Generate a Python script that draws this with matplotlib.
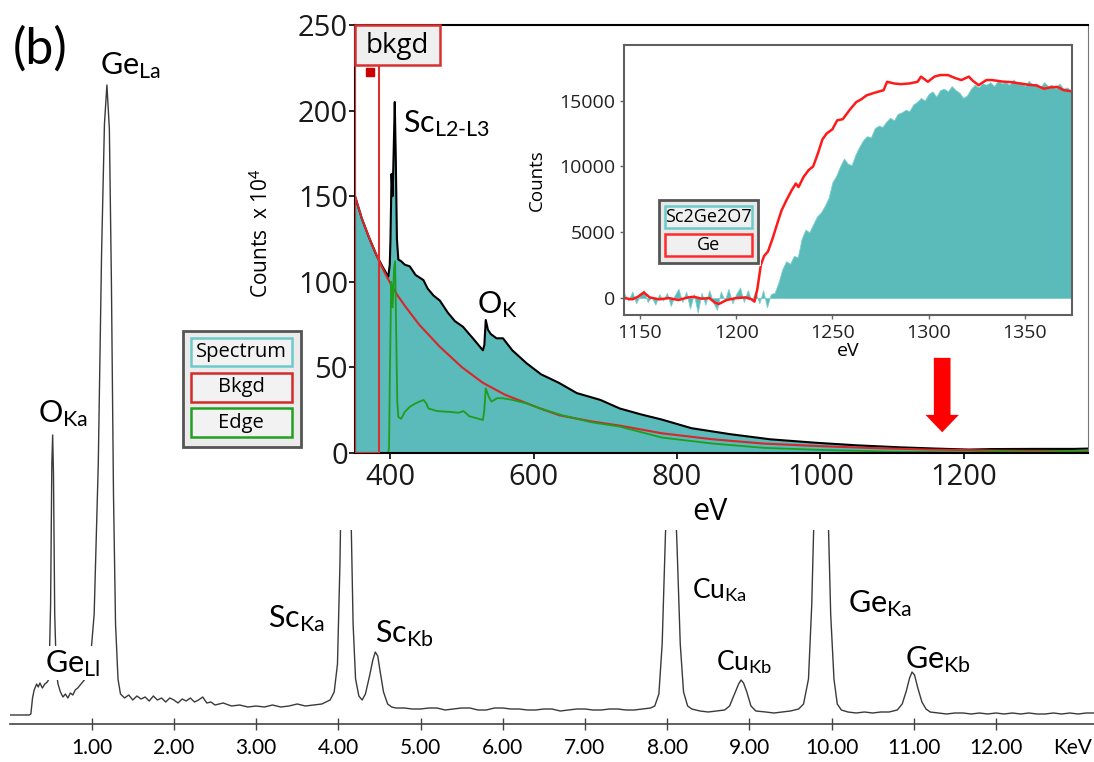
import matplotlib
matplotlib.use('Agg')
import matplotlib.pyplot as plt
from matplotlib.patches import Rectangle

plt.rcParams['mathtext.fontset'] = 'custom'
plt.rcParams['mathtext.rm'] = 'Lato'
plt.rcParams['mathtext.it'] = 'Lato:italic'
plt.rcParams['mathtext.bf'] = 'Lato:bold'

# ---- EDS spectrum (main, keV vs counts a.u.) ----
eds_kev = [0.00, 0.24, 0.26, 0.28, 0.30, 0.33, 0.35, 0.37, 0.40, 0.43, 0.46, 0.48,
           0.50, 0.515, 0.525, 0.535, 0.55, 0.57, 0.59, 0.62, 0.65, 0.68, 0.71, 0.74,
           0.77, 0.80, 0.83, 0.86, 0.89, 0.93, 0.98, 1.03, 1.08, 1.12, 1.155, 1.185,
           1.215, 1.24, 1.265, 1.29, 1.32, 1.35, 1.40, 1.45, 1.50, 1.55, 1.60, 1.65,
           1.70, 1.75, 1.80, 1.85, 1.90, 1.95, 2.00, 2.05, 2.10, 2.15, 2.20, 2.25,
           2.30, 2.35, 2.40, 2.45, 2.50, 2.60, 2.70, 2.80, 2.90, 3.00, 3.10, 3.20,
           3.30, 3.40, 3.50, 3.60, 3.70, 3.80, 3.85, 3.90, 3.95, 3.99, 4.02, 4.05,
           4.08, 4.10, 4.12, 4.15, 4.18, 4.21, 4.25, 4.29, 4.33, 4.38, 4.42, 4.45,
           4.48, 4.51, 4.55, 4.60, 4.65, 4.70, 4.80, 4.90, 5.00, 5.10, 5.20, 5.30,
           5.40, 5.50, 5.60, 5.70, 5.80, 5.90, 6.00, 6.10, 6.20, 6.30, 6.40, 6.50,
           6.60, 6.70, 6.80, 6.90, 7.00, 7.10, 7.20, 7.30, 7.40, 7.50, 7.60, 7.70,
           7.80, 7.85, 7.90, 7.94, 7.98, 8.02, 8.05, 8.08, 8.12, 8.16, 8.20, 8.25,
           8.30, 8.40, 8.50, 8.60, 8.70, 8.76, 8.82, 8.87, 8.90, 8.93, 8.97, 9.02,
           9.08, 9.20, 9.30, 9.40, 9.50, 9.60, 9.66, 9.72, 9.76, 9.80, 9.85, 9.88,
           9.91, 9.95, 9.99, 10.03, 10.07, 10.12, 10.20, 10.30, 10.40, 10.50, 10.60, 10.70,
           10.80, 10.86, 10.91, 10.95, 10.98, 11.01, 11.05, 11.10, 11.15, 11.20, 11.30, 11.40,
           11.50, 11.60, 11.70, 11.80, 11.90, 12.00, 12.10, 12.20, 12.30, 12.40, 12.50, 12.60,
           12.70, 12.80, 12.90, 13.00, 13.10, 13.20]
eds_counts = [9, 9, 10, 26, 34, 40, 37, 41, 36, 40, 42, 45,
              120, 260, 289, 250, 110, 52, 40, 32, 27, 30, 26, 31,
              29, 34, 36, 39, 42, 46, 60, 110, 260, 470, 600, 639,
              595, 440, 230, 100, 45, 30, 26, 29, 24, 28, 25, 27,
              23, 28, 24, 26, 22, 26, 24, 21, 25, 23, 26, 22,
              24, 27, 21, 22, 19, 21, 18, 19, 17, 18, 17, 19,
              17, 18, 20, 18, 19, 20, 22, 24, 32, 60, 160, 320,
              410, 420, 380, 230, 100, 45, 28, 24, 30, 48, 64, 72,
              68, 52, 32, 20, 17, 16, 16, 15, 15, 16, 16, 14,
              15, 16, 16, 14, 14, 16, 16, 15, 15, 14, 14, 15,
              15, 13, 14, 15, 15, 14, 14, 15, 15, 14, 14, 15,
              16, 18, 30, 80, 190, 270, 285, 265, 180, 80, 32, 18,
              15, 13, 12, 13, 14, 18, 30, 40, 44, 41, 32, 18,
              13, 12, 11, 12, 13, 15, 20, 45, 120, 250, 360, 380,
              350, 240, 110, 45, 20, 14, 12, 11, 12, 11, 12, 12,
              14, 20, 33, 46, 52, 49, 36, 22, 15, 12, 11, 10,
              11, 11, 10, 11, 10, 11, 10, 11, 10, 11, 10, 10,
              11, 10, 11, 10, 11, 11]
eds_ticks = [1, 2, 3, 4, 5, 6, 7, 8, 9, 10, 11, 12]

# ---- EELS spectrum (eV vs counts x 10^4) ----
eels_ev = [350.5, 360, 370, 380, 390, 397, 399, 400, 401.5, 403, 404.5, 406, 407.5,
           409, 411, 415, 420, 427, 435, 446, 452, 460, 469, 480, 490, 501, 515,
           529, 531, 533, 536, 540, 548, 557, 570, 590, 610, 635, 660, 693, 720,
           750, 779, 820, 874, 930, 993, 1050, 1112, 1160, 1207, 1240, 1300, 1355, 1374]
eels_counts = [150, 137, 126, 116, 108, 103, 110, 125, 163, 150, 177, 205, 170,
               125, 113, 112, 110, 109, 104, 101, 96, 92, 89, 82, 77, 73.8, 67,
               60, 63, 77.7, 72, 69.5, 67, 67, 60, 52.4, 46, 41, 35, 31, 26,
               22.5, 19.5, 14.5, 11, 8, 6, 4.5, 3.3, 2.6, 2.0, 2.3, 2.4, 2.4, 2.6]
bkgd_ev = [350.5, 360, 370, 380, 390, 400, 410, 420, 440, 469, 500, 529, 560, 609,
           636, 680, 720, 779, 850, 921, 1000, 1064, 1150, 1250, 1374]
bkgd_counts = [150, 137, 126, 116, 107, 99, 92, 86, 75, 62, 50, 41, 34, 26,
               22, 18.5, 16, 11.5, 8, 5.5, 4, 3, 2, 1.4, 1.0]
edge_ev = [350.5, 397, 398, 399, 401, 403, 405, 406.5, 408, 409.5, 411, 415, 420, 427,
           435, 446, 450, 453, 465, 483, 495, 502, 510, 529, 531, 533, 537, 541, 549,
           557, 570, 590, 609, 640, 680, 720, 779, 850, 921, 1000, 1100, 1200, 1250,
           1300, 1374]
edge_counts = [0, 0, 3, 40, 100, 85, 108, 112, 70, 30, 21, 20, 24, 27,
               29, 31, 29, 26, 24.5, 24, 23.5, 24.5, 21.5, 19.3, 25, 37.8, 33, 30, 32,
               32, 31, 29, 26, 22, 18, 15.4, 9, 5.5, 3, 1.8, 0.8, 0.4, 1.0,
               0.6, 1.5]
eels_yticks = [0, 50, 100, 150, 200, 250]
eels_xticks = [400, 600, 800, 1000, 1200]

# ---- Ge L edge inset ----
ge_ev = [1142, 1144, 1146, 1148, 1150, 1152, 1154, 1156, 1158, 1160, 1162, 1164, 1166,
         1168, 1170, 1172, 1174, 1176, 1178, 1180, 1182, 1184, 1186, 1188, 1190, 1192,
         1194, 1196, 1198, 1200, 1202, 1204, 1206, 1208, 1210, 1212, 1214, 1216, 1218,
         1220, 1222, 1224, 1226, 1228, 1230, 1232, 1234, 1236, 1238, 1240, 1242, 1244,
         1246, 1248, 1250, 1252, 1254, 1256, 1258, 1260, 1262, 1264, 1266, 1268, 1270,
         1272, 1274, 1276, 1278, 1280, 1282, 1284, 1286, 1288, 1290, 1292, 1294, 1296,
         1298, 1300, 1302, 1304, 1306, 1308, 1310, 1312, 1314, 1316, 1318, 1320, 1322,
         1324, 1326, 1328, 1330, 1332, 1334, 1336, 1338, 1340, 1342, 1344, 1346, 1348,
         1350, 1352, 1354, 1356, 1358, 1360, 1362, 1364, 1366, 1368, 1370, 1372, 1374]
ge_sample = [300, -200, 500, -400, 200, 600, -300, 100, -500, 300, -200, 400, -600,
             200, 700, -300, 500, -800, 300, -1100, 400, -500, 600, -300, -900, 500,
             -200, 700, -400, 300, 800, -300, 600, -200, 500, -400, 600, -700, 300,
             400, 1200, 2200, 2800, 2600, 3200, 3100, 4500, 5200, 5000, 5600, 6200, 6500,
             7000, 7600, 8800, 9300, 10000, 10600, 10200, 10100, 10900, 11500, 12000, 12300, 12200,
             12900, 13100, 13000, 13400, 13700, 13500, 14000, 14100, 14300, 14200, 14700, 14900, 15200,
             15000, 15500, 15700, 15300, 15800, 15900, 15700, 16100, 15800, 15600, 15200, 15400, 15900,
             16200, 16000, 16300, 16200, 16400, 16100, 16500, 16300, 16400, 16200, 16600, 16300, 16400,
             16100, 16500, 16200, 16300, 16000, 16400, 16100, 16200, 15900, 16300, 15900, 16000, 15700]
ge_ref_ev = [1141.7, 1146, 1149, 1152, 1155, 1160, 1165, 1170, 1175, 1178, 1182, 1186, 1189,
             1191, 1195, 1200, 1205, 1208, 1209.5, 1211, 1212.8, 1214.5, 1216.5, 1219, 1221,
             1223.5, 1226, 1228.8, 1231, 1232.4, 1235, 1237.7, 1240, 1242.5, 1244.8, 1247,
             1250, 1252.5, 1255.4, 1259, 1262.4, 1265, 1267.8, 1272, 1276.6, 1278.4, 1282,
             1285.5, 1290, 1294.3, 1296, 1299.6, 1303, 1306, 1310, 1314, 1317, 1320.9, 1323,
             1326, 1330, 1333, 1338, 1343, 1347.5, 1352, 1356, 1360, 1363, 1367, 1370, 1374.5]
ge_ref = [0, -100, 100, 430, 50, -100, 0, -150, 50, 100, -50, 0, -350,
          -450, -150, 0, 50, -100, -270, 690, 2500, 3200, 3530, 4560, 5500,
          6630, 7400, 8180, 8700, 8430, 9200, 9730, 10000, 11000, 12050, 12500,
          12820, 13500, 13590, 14300, 14890, 15100, 15400, 15600, 15790, 16430, 16300,
          16250, 16300, 16430, 16820, 16430, 16820, 16940, 16940, 16700, 16560, 16820, 16500,
          16170, 16560, 16560, 16450, 16400, 16300, 16200, 16150, 15900, 16000, 16040, 15800, 15700]
ge_yticks = [0, 5000, 10000, 15000]
ge_xticks = [1150, 1200, 1250, 1300, 1350]

TEAL = '#5bbaba'
W, H = 1094, 762


def fx(x):
    return x / W


def fy(y):
    return 1 - y / H


def fbox(x0, y0, x1, y1, fc, ec, lw, z):
    fig.add_artist(Rectangle((fx(x0), fy(y1)), (x1 - x0) / W, (y1 - y0) / H,
                             transform=fig.transFigure, fc=fc, ec=ec, lw=lw, zorder=z))


fig = plt.figure(figsize=(W / 100, H / 100), dpi=100)

# main EDS axes: 0 keV at x=9.5 px, 82.2 px per keV, axis line at y=724 px
ax0 = fig.add_axes([fx(9.5), fy(724), (W - 9.5) / W, 724 / H])
ax0.plot(eds_kev, eds_counts, color='#3a3a3a', lw=1.0)
ax0.set_xlim(0, (W - 9.5) / 82.2)
ax0.set_ylim(0, 724)
for s in ['top', 'left', 'right']:
    ax0.spines[s].set_visible(False)
ax0.spines['bottom'].set_color('#444444')
ax0.spines['bottom'].set_linewidth(1.2)
ax0.set_yticks([])
ax0.set_xticks(eds_ticks)
ax0.set_xticklabels(['%.2f' % t for t in eds_ticks], family='Lato', fontsize=15)
ax0.tick_params(axis='x', direction='inout', length=8, width=1, color='#444444', pad=6)
ax0.patch.set_visible(False)
fig.text(fx(1073), fy(748), 'KeV', family='Lato', fontsize=15, ha='center', va='center')

# white region hiding the tall EDS peaks behind the EELS inset
fbox(180, 0, W, 530, 'white', 'none', 0, 1)

lab = dict(family='Lato', ha='left', va='baseline', zorder=6)
fig.text(fx(13), fy(64), '(b)', fontsize=36, **lab)
fig.text(fx(100), fy(74), r'Ge$_{\rm La}$', fontsize=22, **lab)
fig.text(fx(38), fy(422), r'O$_{\rm Ka}$', fontsize=22, **lab)
fig.text(fx(45), fy(672), r'Ge$_{\rm Ll}$', fontsize=22,
         bbox=dict(fc='white', ec='none', pad=1), **lab)
fig.text(fx(268), fy(627), r'Sc$_{\rm Ka}$', fontsize=22, **lab)
fig.text(fx(375), fy(642), r'Sc$_{\rm Kb}$', fontsize=22, **lab)
fig.text(fx(692), fy(598), r'Cu$_{\rm Ka}$', fontsize=19, **lab)
fig.text(fx(716), fy(670), r'Cu$_{\rm Kb}$', fontsize=19, **lab)
fig.text(fx(848), fy(612), r'Ge$_{\rm Ka}$', fontsize=22, **lab)
fig.text(fx(905), fy(668), r'Ge$_{\rm Kb}$', fontsize=22, **lab)

# EELS inset
ax1 = fig.add_axes([fx(355), fy(453), (1088 - 355) / W, (453 - 25) / H])
ax1.set_zorder(3)
ax1.fill_between(eels_ev, 0, eels_counts, color=TEAL, lw=0)
ax1.plot(eels_ev, eels_counts, color='black', lw=1.5)
ax1.plot(bkgd_ev, bkgd_counts, color='#d8262b', lw=1.5)
ax1.plot(edge_ev, edge_counts, color='#1e9e1e', lw=1.3)
ax1.set_xlim(350.5, 1373.5)
ax1.set_ylim(0, 250)
ax1.set_xticks(eels_xticks)
ax1.set_yticks(eels_yticks)
ax1.set_xticklabels([str(t) for t in eels_xticks], family='Open Sans', fontsize=21, color='#1a1a1a')
ax1.set_yticklabels([str(t) for t in eels_yticks], family='Open Sans', fontsize=21, color='#1a1a1a')
ax1.tick_params(axis='y', direction='out', length=4, width=1.2, pad=1)
ax1.tick_params(axis='x', direction='out', length=4, width=1.2, pad=3)
for s in ['left', 'bottom', 'top']:
    ax1.spines[s].set_linewidth(1.5)
ax1.spines['right'].set_color('#777777')
# background window and label
ax1.add_patch(Rectangle((350.5, 0), 33.5, 226.6, fc='none', ec='#d93030', lw=1.5, zorder=4))
ax1.add_patch(Rectangle((350.5, 226.6), 118.5, 23.4, fc='#efefef', ec='#d93030', lw=1.8,
                        zorder=5, clip_on=False))
ax1.text(409.8, 237.5, 'bkgd', family='Open Sans', fontsize=20, ha='center', va='center', zorder=6)
ax1.plot([371.4], [222.5], marker='s', ms=6, color='#cc0000', zorder=6)
ax1.annotate('', xy=(1170, 10.5), xytext=(1170, 57.2),
             arrowprops=dict(arrowstyle='simple,head_width=2.4,head_length=1.25,tail_width=1.2',
                             color='#ff0000', mutation_scale=10, lw=0))
fig.text(fx(403), fy(132), r'Sc$_{\rm L2\text{-}L3}$', fontsize=22, **lab)
fig.text(fx(477), fy(313), r'O$_{\rm K}$', fontsize=22, **lab)
fig.text(fx(710), fy(512), 'eV', family='Open Sans', fontsize=22, ha='center', va='center', zorder=6)
fig.text(fx(262), fy(233), r'Counts  x 10$^4$', family='Open Sans', fontsize=15, rotation=90,
         ha='center', va='center', zorder=6)

# EELS legend
fbox(182.7, 330.7, 300.7, 447.3, '#ebebeb', '#555555', 2, 4)
for (y0, y1, ec, name) in [(338, 366, '#6ccaca', 'Spectrum'), (373, 402, '#d42a2a', 'Bkgd'),
                           (408, 437, '#22a022', 'Edge')]:
    fbox(190.7, y0, 291.7, y1, '#f2f2f2', ec, 1.8, 5)
    fig.text(fx(241), fy((y0 + y1) / 2), name, family='Open Sans', fontsize=14.5,
             ha='center', va='center', zorder=6)

# Ge L-edge nested inset
ax2 = fig.add_axes([fx(624), fy(315.4), (1072 - 624) / W, (315.4 - 45.3) / H])
ax2.set_zorder(6)
ax2.fill_between(ge_ev, 0, ge_sample, color=TEAL, lw=0.6, edgecolor='#7fcdcd')
ax2.plot(ge_ref_ev, ge_ref, color='#ff1a1a', lw=1.8)
ax2.set_xlim(1141.7, 1374.5)
ax2.set_ylim(-1318, 19200)
ax2.set_xticks(ge_xticks)
ax2.set_yticks(ge_yticks)
ax2.set_xticklabels([str(t) for t in ge_xticks], family='Open Sans', fontsize=14, color='#222222')
ax2.set_yticklabels([str(t) for t in ge_yticks], family='Open Sans', fontsize=14, color='#222222')
ax2.tick_params(direction='out', length=3, width=1, color='#666666', pad=3)
for s in ax2.spines.values():
    s.set_color('#606060')
    s.set_linewidth(1.5)
ax2.set_xlabel('eV', family='Open Sans', fontsize=14, labelpad=0)
ax2.set_ylabel('Counts', family='Open Sans', fontsize=13.5, labelpad=10)

fbox(656, 197, 761, 266, 'white', 'none', 0, 7)
fbox(659, 200, 758, 263, '#e8e8e8', '#555555', 2, 8)
for (y0, y1, ec, name) in [(206, 228, '#6ccaca', 'Sc2Ge2O7'), (234, 256, '#ff2a2a', 'Ge')]:
    fbox(665, y0, 752, y1, '#f0f0f0', ec, 1.8, 9)
    fig.text(fx(708.5), fy((y0 + y1) / 2), name, family='Open Sans', fontsize=13,
             ha='center', va='center', zorder=10)

fig.savefig('out.png', dpi=100)
